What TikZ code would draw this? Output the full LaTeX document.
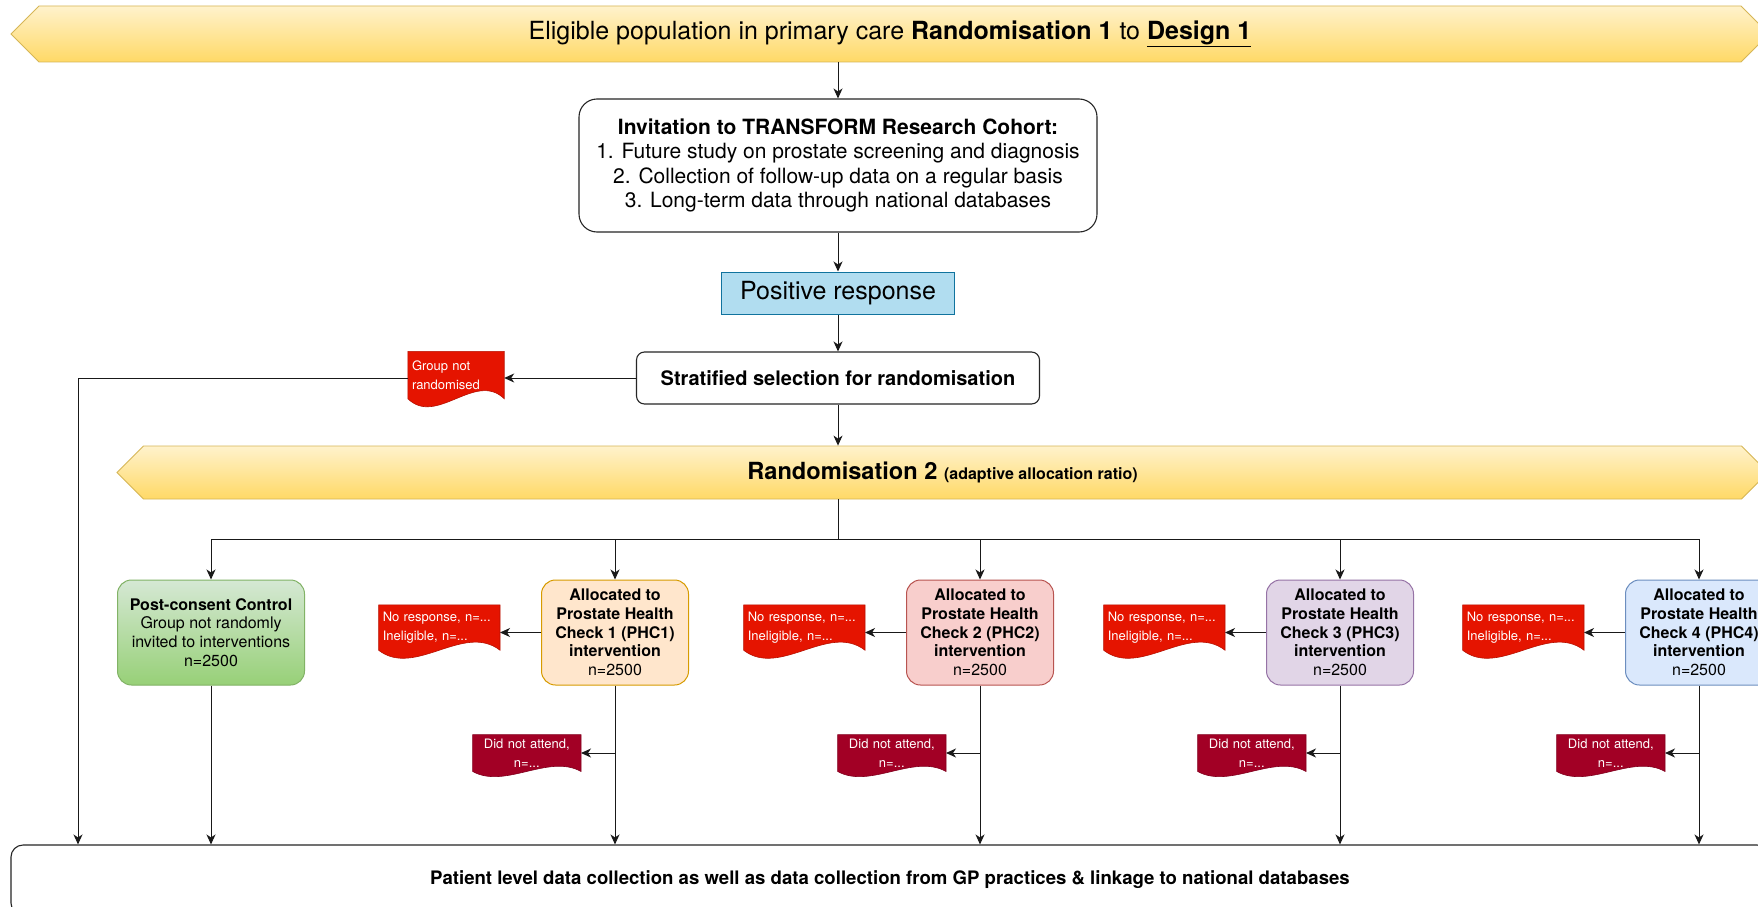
\documentclass[tikz,border=0pt]{standalone}
\usepackage{fontspec}
\setmainfont{TeX Gyre Heros}
\usetikzlibrary{positioning,shapes.symbols,arrows.meta,backgrounds}

% drawio palette
\definecolor{bannertop}{HTML}{FFF2CC}
\definecolor{bannerbot}{HTML}{FFD966}
\definecolor{bannerline}{HTML}{D6B656}
\definecolor{posfill}{HTML}{B1DDF0}
\definecolor{posline}{HTML}{10739E}
\definecolor{docred}{HTML}{E51400}
\definecolor{docdark}{HTML}{A20025}
\definecolor{ctrltop}{HTML}{D5E8D4}
\definecolor{ctrlbot}{HTML}{97D077}
\definecolor{ctrlline}{HTML}{82B366}
\definecolor{phcafill}{HTML}{FFE6CC}
\definecolor{phcaline}{HTML}{D79B00}
\definecolor{phcbfill}{HTML}{F8CECC}
\definecolor{phcbline}{HTML}{B85450}
\definecolor{phccfill}{HTML}{E1D5E7}
\definecolor{phccline}{HTML}{9673A6}
\definecolor{phcdfill}{HTML}{DAE8FC}
\definecolor{phcdline}{HTML}{6C8EBF}

% font sizes (1pt = 1px of the reference)
\newcommand{\bannerfont}{\fontsize{25}{30}\selectfont}
\newcommand{\invitefont}{\fontsize{21}{24.6}\selectfont}
\newcommand{\stratfont}{\fontsize{20}{24}\selectfont}
\newcommand{\armfont}{\fontsize{16}{18.7}\selectfont}
\newcommand{\notefont}{\fontsize{13}{19}\selectfont}
\newcommand{\footfont}{\fontsize{18.6}{22}\selectfont}

\tikzset{
  arr/.style={draw=black!90, line width=1pt, -{Stealth[length=10pt,width=9pt,inset=3pt]}},
  link/.style={draw=black!90, line width=1pt},
  banner/.style={signal, signal to=west and east, draw=bannerline, line width=0.8pt,
    top color=bannertop, bottom color=bannerbot, inner sep=0pt},
  whitebox/.style={rectangle, draw=black!85, fill=white, rounded corners=#1,
    line width=1.1pt, align=center, inner sep=0pt},
  posbox/.style={rectangle, draw=posline, fill=posfill, line width=1pt, inner sep=0pt},
  armbox/.style 2 args={rectangle, draw=#2, fill=#1, rounded corners=14pt,
    line width=1pt, minimum width=147pt, minimum height=105pt, align=center,
    inner sep=0pt, font=\armfont},
  docnote/.style={rectangle, inner sep=4pt, text=white, font=\notefont},
  rednote/.style={docnote, minimum height=45pt, text width=113pt, align=left},
  darknote/.style={docnote, minimum height=31pt, text width=100pt, align=center},
}

\begin{document}
\begin{tikzpicture}[x=1pt,y=-1pt]
  \useasboundingbox (0,0) rectangle (1758,907);
  \clip (0,0) rectangle (1758,907);

  % Top of the flow
  \node[banner, minimum width=1758pt, minimum height=56pt, font=\bannerfont] (banner1)
    at (890,34) {Eligible population in primary care \textbf{Randomisation 1} to \underline{\textbf{Design 1}}};
  \node[whitebox=18pt, minimum width=518pt, minimum height=133pt, font=\invitefont] (invite)
    at (838,165.5) {\textbf{Invitation to TRANSFORM Research Cohort:}\\
      1. Future study on prostate screening and diagnosis\\
      2. Collection of follow-up data on a regular basis\\
      3. Long-term data through national databases};
  \node[posbox, minimum width=233pt, minimum height=42pt, font=\bannerfont] (positive)
    at (838,293) {Positive response};
  \node[whitebox=8pt, minimum width=403pt, minimum height=52pt, font=\stratfont] (strat)
    at (838,378) {\textbf{Stratified selection for randomisation}};
  \node[rednote, minimum width=96pt, text width=88pt, minimum height=47pt] (gnr)
    at (456,375) {Group not\\randomised};
  \node[banner, minimum width=1651pt, minimum height=53pt, font=\bannerfont] (banner2)
    at (942.5,472.5) {\fontsize{23.6}{28}\selectfont\textbf{Randomisation 2}
      {\fontsize{16}{20}\selectfont\textbf{(adaptive allocation ratio)}}};

  % Arms
  \node[armbox={ctrltop}{ctrlline}, minimum width=187pt, top color=ctrltop, bottom color=ctrlbot]
    (ctrl) at (211,632.5) {\textbf{Post-consent Control}\\Group not randomly\\invited to interventions\\n=2500};
  \foreach \n/\x/\f/\d in {1/615/phcafill/phcaline, 2/980/phcbfill/phcbline,
                           3/1340/phccfill/phccline, 4/1699/phcdfill/phcdline} {
    \node[armbox={\f}{\d}] (phc\n) at (\x,632.5)
      {\textbf{Allocated to}\\\textbf{Prostate Health}\\\textbf{Check \n\ (PHC\n)}\\\textbf{intervention}\\n=2500};
    \node[rednote, left=41pt of phc\n, yshift=5pt] (nr\n) {No response, n=...\\Ineligible, n=...};
    \node[darknote, anchor=east] (dna\n) at (\x-34,753) {Did not attend,\\n=...};
  }

  % Data collection
  \node[whitebox=12pt, minimum width=1758pt, minimum height=70pt, font=\footfont] (bottom)
    at (890,880) {\textbf{Patient level data collection as well as data collection from GP practices \& linkage to national databases}};

  % Connectors
  \coordinate (split) at (838,539);
  \coordinate (leftx) at (78,0);
  \draw[arr] (banner1.south -| invite.north) -- (invite.north);
  \draw[arr] (invite.south) -- (positive.north);
  \draw[arr] (positive.south) -- (strat.north);
  \draw[arr] (strat.west) -- (strat.west -| gnr.east);
  \draw[arr] (strat.west -| gnr.west) -| (leftx |- bottom.north);
  \draw[arr] (strat.south) -- (strat.south |- banner2.north);
  \draw[link] (banner2.south -| split) -- (split);
  \foreach \n in {ctrl,phc1,phc2,phc3,phc4}
    \draw[arr] (split) -| (\n.north);
  \draw[arr] (ctrl.south) -- (ctrl.south |- bottom.north);
  \foreach \n in {1,2,3,4} {
    \draw[arr] (phc\n.west) -- (phc\n.west -| nr\n.east);
    \draw[arr] (phc\n.south |- dna\n.east) -- (dna\n.east);
    \draw[arr] (phc\n.south) -- (phc\n.south |- bottom.north);
  }

  % wavy lower edges of the note shapes
  \begin{scope}[on background layer]
    \fill[white] (0,0) rectangle (1758,907);
    \foreach \n/\c/\w/\a in {gnr/docred/96/28, nr1/docred/121/28, nr2/docred/121/28,
        nr3/docred/121/28, nr4/docred/121/28, dna1/docdark/108/18, dna2/docdark/108/18,
        dna3/docdark/108/18, dna4/docdark/108/18}
      \filldraw[fill=\c, draw=\c!80!black, line width=0.6pt]
        (\n.north west) -- (\n.north east) -- (\n.south east)
        .. controls +(-0.3*\w,-\a) and +(0.3*\w,\a) .. (\n.south west) -- cycle;
  \end{scope}
\end{tikzpicture}
\end{document}
